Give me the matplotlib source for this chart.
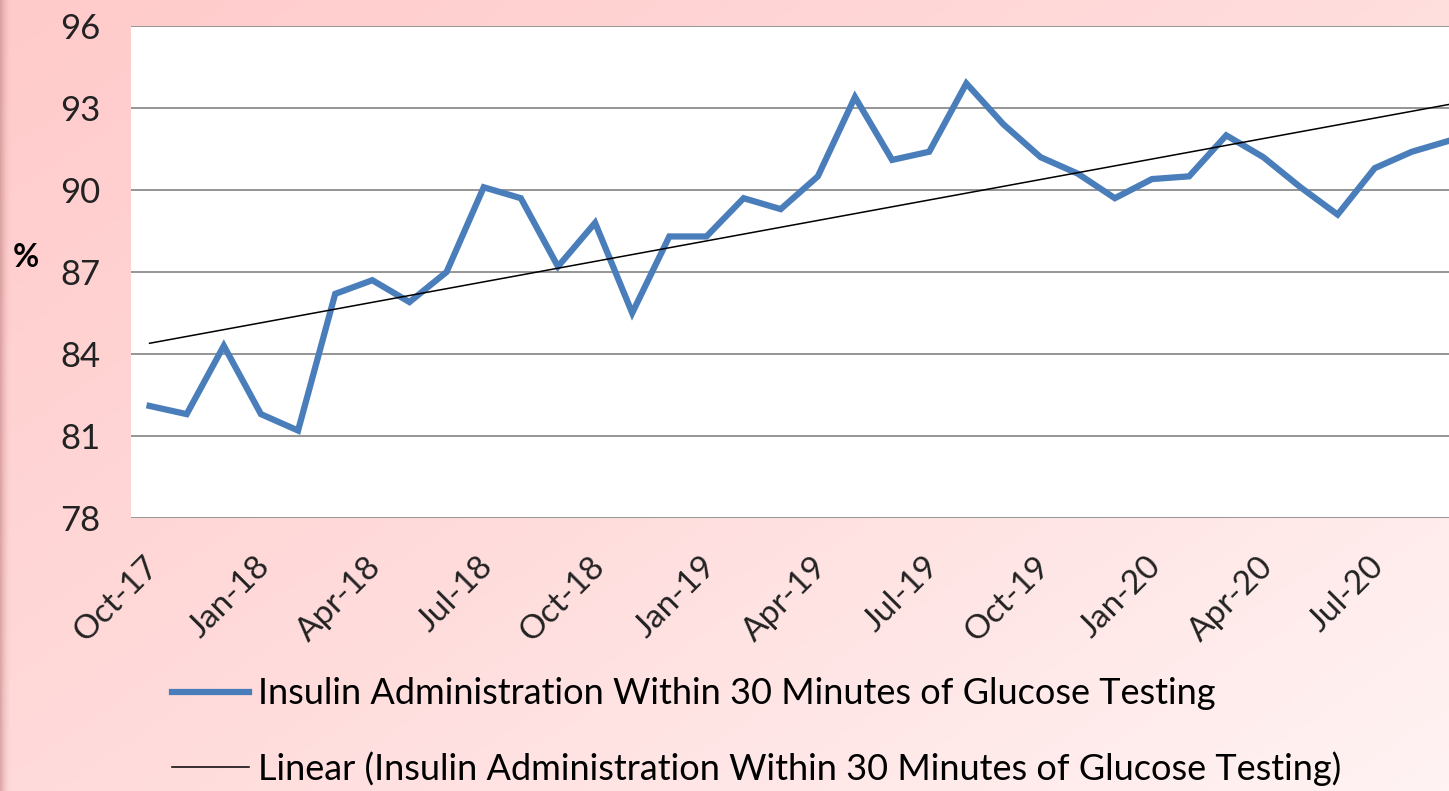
import matplotlib
matplotlib.use("Agg")
import matplotlib.pyplot as plt
import matplotlib.transforms as mtransforms
import numpy as np
from matplotlib.colors import LinearSegmentedColormap

# monthly series, Oct-17 .. Sep-20
months = ["Oct-17", "Nov-17", "Dec-17", "Jan-18", "Feb-18", "Mar-18", "Apr-18",
          "May-18", "Jun-18", "Jul-18", "Aug-18", "Sep-18", "Oct-18", "Nov-18",
          "Dec-18", "Jan-19", "Feb-19", "Mar-19", "Apr-19", "May-19", "Jun-19",
          "Jul-19", "Aug-19", "Sep-19", "Oct-19", "Nov-19", "Dec-19", "Jan-20",
          "Feb-20", "Mar-20", "Apr-20", "May-20", "Jun-20", "Jul-20", "Aug-20",
          "Sep-20"]
pct = [82.1, 81.8, 84.3, 81.8, 81.2, 86.2, 86.7, 85.9, 87.0, 90.1, 89.7, 87.2,
       88.8, 85.5, 88.3, 88.3, 89.7, 89.3, 90.5, 93.4, 91.1, 91.4, 93.9, 92.4,
       91.2, 90.6, 89.7, 90.4, 90.5, 92.0, 91.2, 90.1, 89.1, 90.8, 91.4, 91.8]

series_name = "Insulin Administration Within 30 Minutes of Glucose Testing"
y_ticks = [78, 81, 84, 87, 90, 93, 96]

plt.rcParams["font.family"] = ["Lato", "DejaVu Sans"]

W, H = 1449, 791
fig = plt.figure(figsize=(W / 100, H / 100), dpi=100)

# pink diagonal gradient background
bg = fig.add_axes([0, 0, 1, 1], zorder=-10)
gx, gy = np.meshgrid(np.linspace(0, 1, 300), np.linspace(0, 1, 200))
grad = 0.55 * gx + 0.45 * gy
cmap_bg = LinearSegmentedColormap.from_list("bgp", ["#ffcaca", "#ffdcdc", "#fff3f3"])
bg.imshow(grad, cmap=cmap_bg, aspect="auto", extent=[0, 1, 0, 1], origin="upper")
edge = np.linspace(1, 0, 40)[None, :] ** 2
bg.imshow(np.ones((1, 40)), cmap=LinearSegmentedColormap.from_list("e", ["#c08080", "#c08080"]),
          alpha=edge * 0.6, aspect="auto", extent=[0, 12 / W, 0, 1])
bg.set_xlim(0, 1)
bg.set_ylim(0, 1)
bg.axis("off")

ax = fig.add_axes([131 / W, 1 - 518 / H, 1 - 131 / W, (518 - 26) / H])
ax.set_facecolor("white")

x = np.arange(len(pct))
coef = np.polyfit(x, pct, 1)
trend = np.polyval(coef, x)

ax.plot(x, pct, color="#4a7ebb", lw=4.5, solid_joinstyle="miter",
        label=series_name, zorder=3)
ax.plot(x, trend, color="black", lw=1.1, zorder=4,
        label=f"Linear ({series_name})")

ax.set_xlim(-0.5, len(pct) - 1)
ax.set_ylim(78, 96)
ax.set_yticks(y_ticks)
ax.yaxis.grid(True, color="#8c8c8c", lw=1.3)
ax.set_axisbelow(True)
for s in ax.spines.values():
    s.set_visible(False)
ax.tick_params(axis="y", length=0, labelsize=25, pad=22, labelcolor="#222222")
ax.tick_params(axis="x", length=0, labelsize=24, pad=24, labelcolor="#222222")
tick_pos = x[::3]
ax.set_xticks(tick_pos)
ax.set_xticklabels([months[i] for i in tick_pos], rotation=45,
                   ha="right", rotation_mode="anchor")
shift = mtransforms.ScaledTranslation(-6 / 100, 0, fig.dpi_scale_trans)
for lbl in ax.get_xticklabels():
    lbl.set_transform(lbl.get_transform() + shift)
ax.set_ylabel("%", rotation=0, fontsize=23, fontweight="bold")
ax.yaxis.set_label_coords(-0.08, 0.5)

leg = fig.legend(loc="upper left", bbox_to_anchor=(139 / W, 1 - 645 / H),
                 frameon=False, fontsize=26, handlelength=2.15, handletextpad=0.25,
                 labelspacing=1.12)

fig.savefig("out.png", dpi=100)
